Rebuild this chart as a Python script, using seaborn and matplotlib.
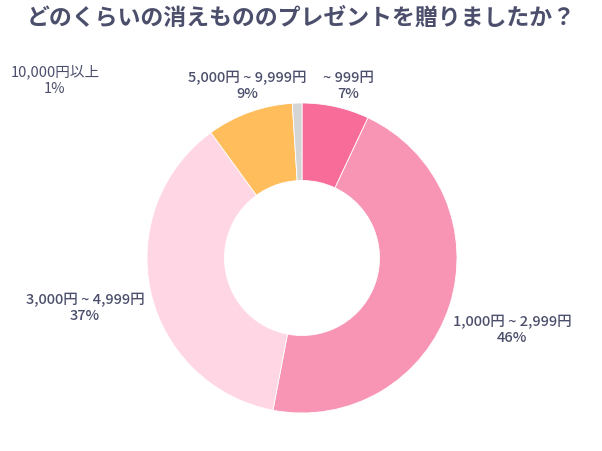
import matplotlib
matplotlib.use("Agg")
import matplotlib.pyplot as plt
import seaborn as sns

# データ
categories = ["~ 999円", "1,000円 ~ 2,999円", "3,000円 ~ 4,999円", "5,000円 ~ 9,999円", "10,000円以上"]
shares = [7, 46, 37, 9, 1]
colors = ["#F86C99", "#F894B4", "#FFD6E4", "#FFBD5C", "#D5D5D5"]

# ラベル位置 (ピクセル)
label_px = [(348, 86), (512, 330), (85, 308), (247, 86), (55, 80)]
label_weight = ["medium", "medium", "medium", "medium", "normal"]

sns.set_theme(style="white")
plt.rcParams["font.family"] = ["Noto Sans CJK JP", "DejaVu Sans"]

W, H = 602, 451
cx, cy, R = 302, 258, 155

fig = plt.figure(figsize=(W / 100, H / 100), dpi=100)
ax = fig.add_axes([0, 0, 1, 1])
ax.pie(shares, colors=colors, startangle=90, counterclock=False, radius=1,
       wedgeprops=dict(width=0.5, edgecolor="white", linewidth=0.6))
ax.set_xlim(-cx / R, (W - cx) / R)
ax.set_ylim(-(H - cy) / R, cy / R)
ax.set_aspect("auto")
ax.axis("off")

text_color = "#4B4F6B"
for name, val, (px, py), w in zip(categories, shares, label_px, label_weight):
    ax.text((px - cx) / R, (cy - py) / R, f"{name}\n{val}%", ha="center", va="center",
            fontsize=10.5, color=text_color, fontweight=w, linespacing=1.25)

fig.text(0.5, 1 - 18 / H, "どのくらいの消えもののプレゼントを贈りましたか？", ha="center", va="center",
         fontsize=16.5, fontweight="bold", color=text_color)

fig.savefig("out.png", dpi=100)
